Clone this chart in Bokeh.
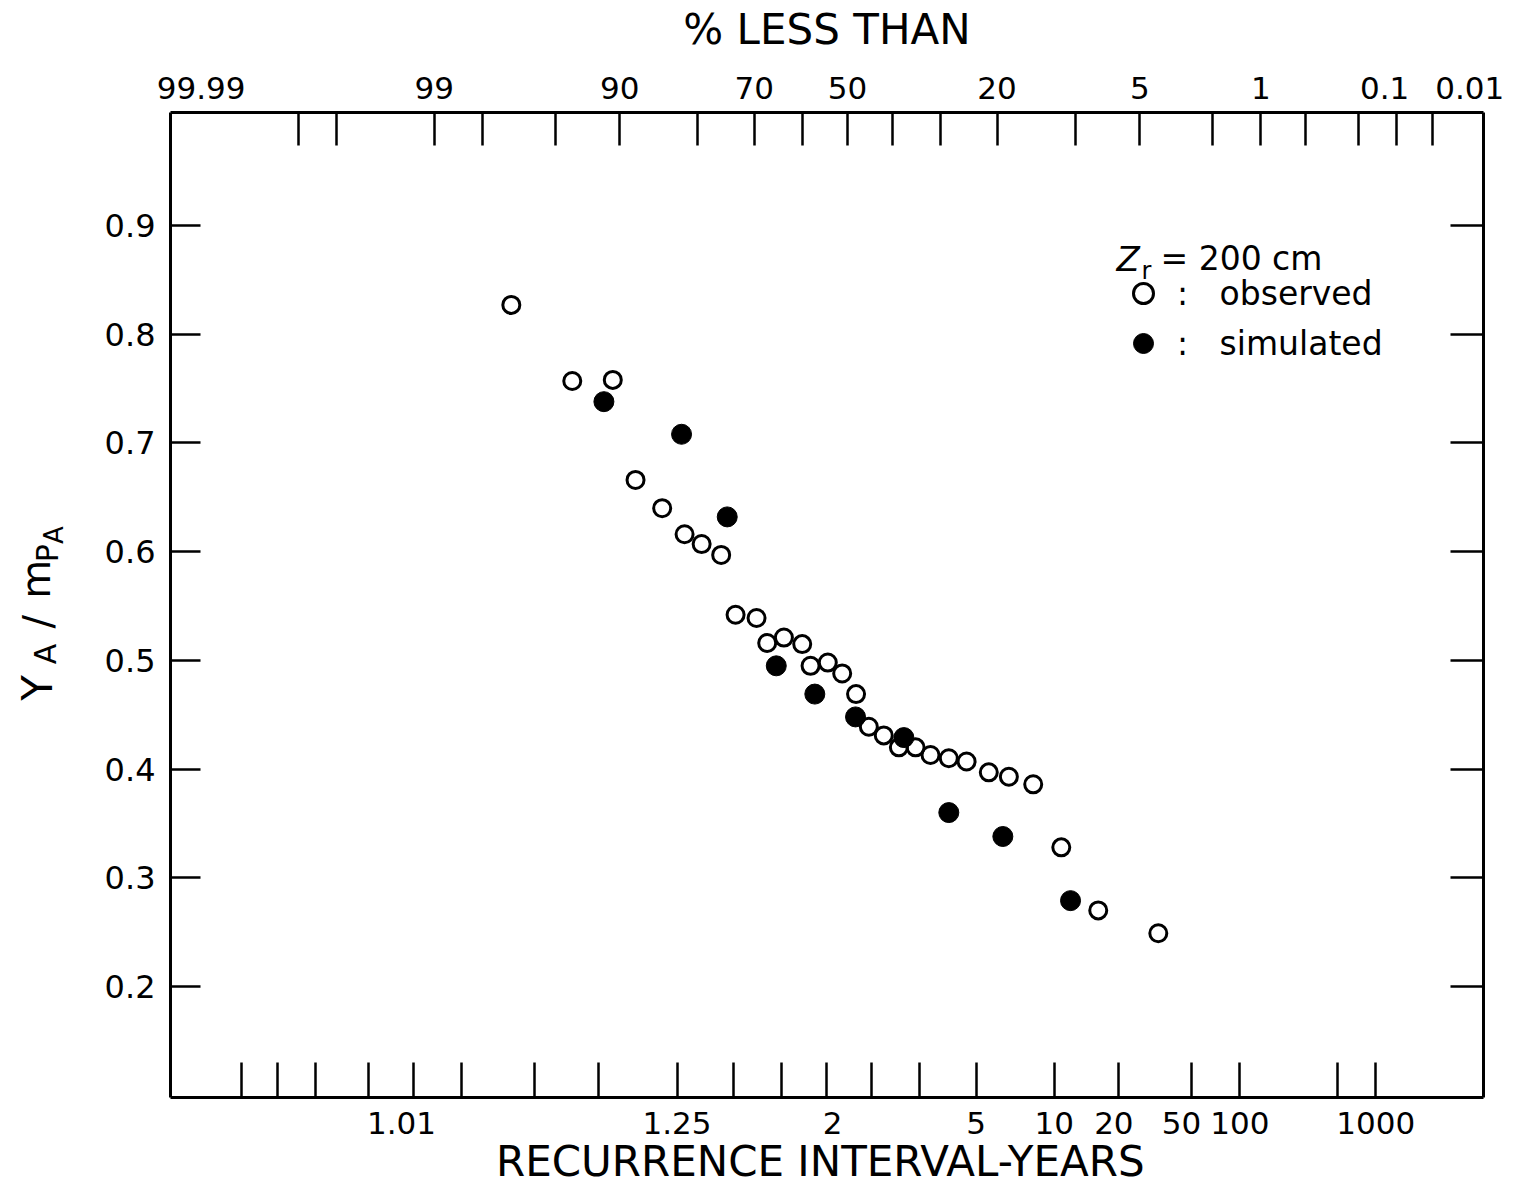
from math import pi
from statistics import NormalDist

from bokeh.plotting import figure
from bokeh.layouts import row
from bokeh.models import (Range1d, LinearAxis, FixedTicker, Label, Legend, LegendItem,
                          ColumnDataSource, CustomLabelingPolicy)
from bokeh.core.properties import value
from bokeh.embed import file_html
from bokeh.resources import INLINE

ND = NormalDist()

# ---------------- data ----------------
# x: position on the normal-probability scale (standard normal reduced variate
#    of 1 - 1/T, T = recurrence interval in years); y: Y_A / m_PA
obs_z = [-1.774, -1.431, -1.203, -1.075, -0.925, -0.799, -0.703, -0.593, -0.512, -0.394,
         -0.334, -0.240, -0.137, -0.090, 0.007, 0.088, 0.166, 0.238, 0.322, 0.407,
         0.501, 0.585, 0.688, 0.788, 0.913, 1.026, 1.163, 1.321, 1.529, 1.867]
obs_ratio = [0.827, 0.757, 0.758, 0.666, 0.640, 0.616, 0.607, 0.597, 0.542, 0.539,
             0.516, 0.521, 0.515, 0.495, 0.498, 0.488, 0.469, 0.439, 0.431, 0.420,
             0.420, 0.413, 0.410, 0.407, 0.397, 0.393, 0.386, 0.328, 0.270, 0.249]

sim_z = [-1.253, -0.816, -0.559, -0.283, -0.066, 0.163, 0.435, 0.688, 0.992, 1.373]
sim_ratio = [0.738, 0.708, 0.632, 0.495, 0.469, 0.448, 0.429, 0.360, 0.338, 0.279]

# ---------------- axes: tick values / labels ----------------
TOP_TICK_PCT = [99.9, 99.8, 99, 98, 95, 90, 80, 70, 60, 50, 40, 30, 20, 10, 5, 2, 1,
                0.5, 0.2, 0.1, 0.05]
TOP_LABELS = ["99.99", "99", "90", "70", "50", "20", "5", "1", "0.1", "0.01"]
BOTTOM_TICK_PCT = [99.95, 99.9, 99.8, 99.5, 99, 98, 95, 90, 80, 70, 60, 50, 40, 30,
                   20, 10, 5, 2, 1, 0.2, 0.1]
BOTTOM_LABELS = ["1.01", "1.25", "2", "5", "10", "20", "50", "100", "1000"]
Y_TICKS = [0.2, 0.3, 0.4, 0.5, 0.6, 0.7, 0.8, 0.9]

# ---------------- layout of the drawing (not data) ----------------
TOP_SHIFT = 0.118                                   # top scale drawn slightly offset
TOP_END_LABEL_Z = {"99.99": -3.52, "0.01": 3.62}    # end labels squeezed inside frame
TOP_LABEL_NUDGE = {"0.1": -0.068}
BOTTOM_LABEL_NUDGE = {"1.01": -0.062, "2": 0.034, "20": -0.028, "50": -0.056}
X_RANGE = (-3.692, 3.697)
Y_RANGE = (0.0979, 1.004)
FONT = "DejaVu Sans"


def pct_to_z(p):
    return ND.inv_cdf(1.0 - p / 100.0)


def top_label_z(lbl):
    if lbl in TOP_END_LABEL_Z:
        return TOP_END_LABEL_Z[lbl]
    return round(pct_to_z(float(lbl)) + TOP_SHIFT + TOP_LABEL_NUDGE.get(lbl, 0.0), 5)


def bottom_label_z(lbl):
    T = float(lbl)
    return round(ND.inv_cdf(1.0 - 1.0 / T) + BOTTOM_LABEL_NUDGE.get(lbl, 0.0), 5)


top_minor = [round(pct_to_z(p) + TOP_SHIFT, 5) for p in TOP_TICK_PCT]
top_major = [top_label_z(l) for l in TOP_LABELS]
bot_minor = [round(pct_to_z(p), 5) for p in BOTTOM_TICK_PCT]
bot_major = [bottom_label_z(l) for l in BOTTOM_LABELS]

p = figure(width=1427, height=1189, output_backend="svg", toolbar_location=None,
           x_axis_type=None, y_axis_type=None,
           x_range=Range1d(*X_RANGE), y_range=Range1d(*Y_RANGE),
           min_border_left=80, min_border_right=34, min_border_top=112,
           min_border_bottom=92)
p.outline_line_color = None
p.background_fill_color = "white"
p.border_fill_color = "white"
p.grid.visible = False


def style_axis(ax):
    ax.axis_line_color = "black"
    ax.axis_line_width = 3
    ax.major_label_text_font = FONT
    ax.major_label_text_color = "black"
    ax.axis_label_text_font = FONT
    ax.axis_label_text_font_style = "normal"
    ax.axis_label_text_color = "black"


# top axis
top = LinearAxis(ticker=FixedTicker(ticks=top_major, minor_ticks=top_minor))
style_axis(top)
top.major_label_overrides = {z: l for z, l in zip(top_major, TOP_LABELS)}
top.major_tick_in = 0
top.major_tick_out = 0
top.minor_tick_in = 33
top.minor_tick_out = 0
top.minor_tick_line_width = 2.5
top.minor_tick_line_color = "black"
top.major_label_text_font_size = "31px"
top.major_label_standoff = 14
top.axis_label = "% LESS THAN"
top.axis_label_text_font_size = "42px"
top.axis_label_standoff = 20
p.add_layout(top, "above")

# bottom axis
bot = LinearAxis(ticker=FixedTicker(ticks=bot_major, minor_ticks=bot_minor))
style_axis(bot)
bot.major_label_overrides = {z: l for z, l in zip(bot_major, BOTTOM_LABELS)}
bot.major_tick_in = 0
bot.major_tick_out = 0
bot.minor_tick_in = 35
bot.minor_tick_out = 0
bot.minor_tick_line_width = 2.5
bot.minor_tick_line_color = "black"
bot.major_label_text_font_size = "31px"
bot.major_label_standoff = 14
bot.axis_label = "RECURRENCE  INTERVAL-YEARS"
bot.axis_label_text_font_size = "42px"
bot.axis_label_standoff = 0
p.add_layout(bot, "below")

# left axis
left = LinearAxis(ticker=FixedTicker(ticks=Y_TICKS, minor_ticks=[]))
style_axis(left)
left.major_tick_in = 30
left.major_tick_out = 0
left.major_tick_line_width = 2.5
left.major_tick_line_color = "black"
left.minor_tick_line_color = None
left.major_label_text_font_size = "32px"
left.major_label_standoff = 15
p.add_layout(left, "left")

# right axis (ticks only)
right = LinearAxis(ticker=FixedTicker(ticks=Y_TICKS, minor_ticks=[]))
style_axis(right)
right.major_tick_in = 33
right.major_tick_out = 0
right.major_tick_line_width = 2.5
right.major_tick_line_color = "black"
right.minor_tick_line_color = None
right.major_label_standoff = 0
right.major_label_policy = CustomLabelingPolicy(
    code="for (const i of Array.from(indices)) { indices.unset(i) }\nreturn indices")
p.add_layout(right, "right")

# data
r_obs = p.scatter(obs_z, obs_ratio, marker="circle", size=17, fill_color=None,
                  line_color="black", line_width=3)
r_sim = p.scatter(sim_z, sim_ratio, marker="circle", size=20, fill_color="black",
                  line_color="black", line_width=1)

# legend
legend = Legend(items=[LegendItem(label=":   observed", renderers=[r_obs]),
                       LegendItem(label=":   simulated", renderers=[r_sim])],
                location=(948, 729), orientation="vertical",
                glyph_width=50, glyph_height=50, label_height=50, spacing=0,
                padding=0, margin=0, border_line_color=None,
                background_fill_alpha=0, label_standoff=9,
                label_text_font=FONT, label_text_font_size="33px",
                label_text_color="black")
p.add_layout(legend)


def add_label(x, y, text, size, style="normal"):
    p.add_layout(Label(x=x, y=y, x_units="screen", y_units="screen", text=text,
                       text_font=FONT, text_font_size=size,
                       text_font_style=style, text_color="black",
                       text_align="left", text_baseline="alphabetic"))


# legend title  Z_r = 200 cm
add_label(946, 839, "Z", "34px", style="italic")
add_label(971, 827, "r", "24px")
add_label(990, 839, "= 200 cm", "33px")

# ---------------- y axis title  Y_A / m_PA (rotated, own strip) ----------------
ylab = figure(width=90, height=1189, output_backend="svg", toolbar_location=None,
              x_axis_type=None, y_axis_type=None,
              x_range=Range1d(0, 90), y_range=Range1d(0, 1189), min_border=0)
ylab.outline_line_color = None
ylab.grid.visible = False
ylab.background_fill_color = "white"
ylab.border_fill_color = "white"
ytitle = ColumnDataSource(dict(
    x=[37, 45, 37, 35, 47, 53],
    y=[479, 523, 566, 602, 646, 668],
    text=["Y", "A", "/", "m", "P", "A"],
    size=["42px", "30px", "40px", "40px", "30px", "26px"],
))
ylab.text(x="x", y="y", text="text", source=ytitle, angle=pi / 2,
          text_font=value(FONT), text_font_size="size", text_color="black",
          text_align="left", text_baseline="alphabetic")

layout = row(ylab, p, spacing=0)
open("out.html", "w").write(file_html(layout, INLINE))
